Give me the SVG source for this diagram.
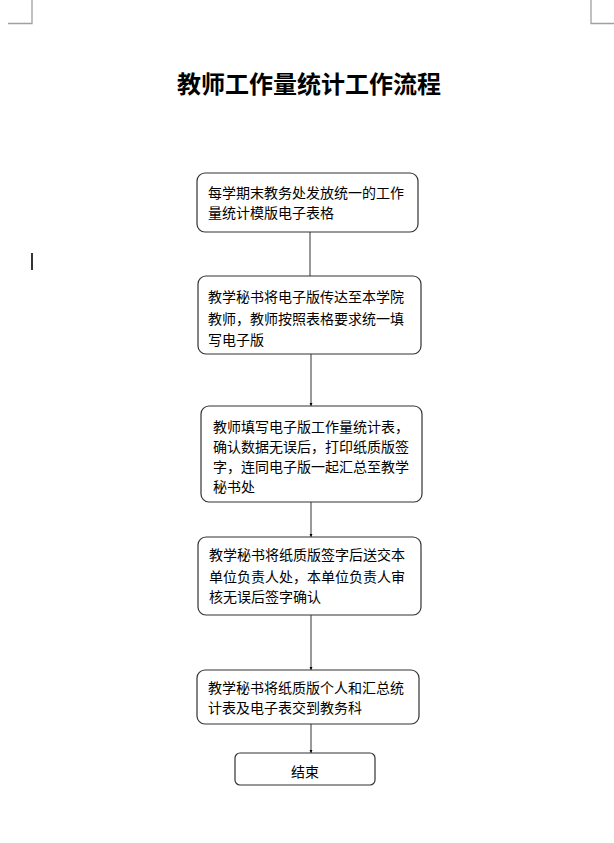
<svg xmlns="http://www.w3.org/2000/svg" width="614" height="843" viewBox="0 0 614 843">
<style>
.bg{fill:#ffffff}
.mark{stroke:#a0a0a0;stroke-width:1.3;fill:none}
.box{fill:#ffffff;stroke:#333333;stroke-width:1.2}
.t{font-family:"Noto Sans CJK SC","Liberation Sans",sans-serif;font-size:14px;fill:#000000}
.title{font-family:"Noto Sans CJK SC","Liberation Sans",sans-serif;font-size:24px;font-weight:bold;fill:#000000}
.conn{stroke:#555555;stroke-width:1.2;fill:none}
</style>
<defs>
<marker id="arr" viewBox="0 0 6 6" refX="6" refY="3" markerWidth="3.5" markerHeight="3.5" orient="auto" markerUnits="userSpaceOnUse">
<path d="M0,0 L6,3 L0,6 z" fill="#000000"/>
</marker>
</defs>
<rect class="bg" x="0" y="0" width="614" height="843"/>
<g id="page-marks">
<path class="mark" d="M32,0 V23.5 H8"/>
<path class="mark" d="M591,0 V23.5 H614"/>
<line x1="32" y1="253" x2="32" y2="270" stroke="#000000" stroke-width="1.6"/>
</g>
<g id="title">
<text class="title" x="309" y="93" text-anchor="middle">教师工作量统计工作流程</text>
</g>
<g id="connectors">
<line class="conn" x1="310" y1="232" x2="310" y2="276"/>
<line class="conn" x1="311" y1="354" x2="311" y2="406" marker-end="url(#arr)"/>
<line class="conn" x1="311" y1="502" x2="311" y2="537" marker-end="url(#arr)"/>
<line class="conn" x1="311" y1="615" x2="311" y2="670" marker-end="url(#arr)"/>
<line class="conn" x1="311" y1="724" x2="311" y2="753" marker-end="url(#arr)"/>
</g>
<g id="node1">
<rect class="box" x="197" y="173" width="221" height="59" rx="8"/>
<text class="t" x="208" y="198">每学期末教务处发放统一的工作</text>
<text class="t" x="208" y="218">量统计模版电子表格</text>
</g>
<g id="node2">
<rect class="box" x="198" y="276" width="223" height="78" rx="8"/>
<text class="t" x="208" y="302">教学秘书将电子版传达至本学院</text>
<text class="t" x="208" y="324">教师，教师按照表格要求统一填</text>
<text class="t" x="208" y="345">写电子版</text>
</g>
<g id="node3">
<rect class="box" x="201" y="406" width="221" height="96" rx="8"/>
<text class="t" x="213" y="432">教师填写电子版工作量统计表，</text>
<text class="t" x="213" y="452">确认数据无误后，打印纸质版签</text>
<text class="t" x="213" y="472">字，连同电子版一起汇总至教学</text>
<text class="t" x="213" y="492">秘书处</text>
</g>
<g id="node4">
<rect class="box" x="198" y="537" width="223" height="78" rx="8"/>
<text class="t" x="209" y="560">教学秘书将纸质版签字后送交本</text>
<text class="t" x="209" y="582">单位负责人处，本单位负责人审</text>
<text class="t" x="209" y="602">核无误后签字确认</text>
</g>
<g id="node5">
<rect class="box" x="197" y="670" width="222" height="54" rx="8"/>
<text class="t" x="208" y="693">教学秘书将纸质版个人和汇总统</text>
<text class="t" x="208" y="713">计表及电子表交到教务科</text>
</g>
<g id="node6">
<rect class="box" x="235" y="753" width="140" height="32" rx="5"/>
<text class="t" x="305" y="777" text-anchor="middle">结束</text>
</g>
</svg>
